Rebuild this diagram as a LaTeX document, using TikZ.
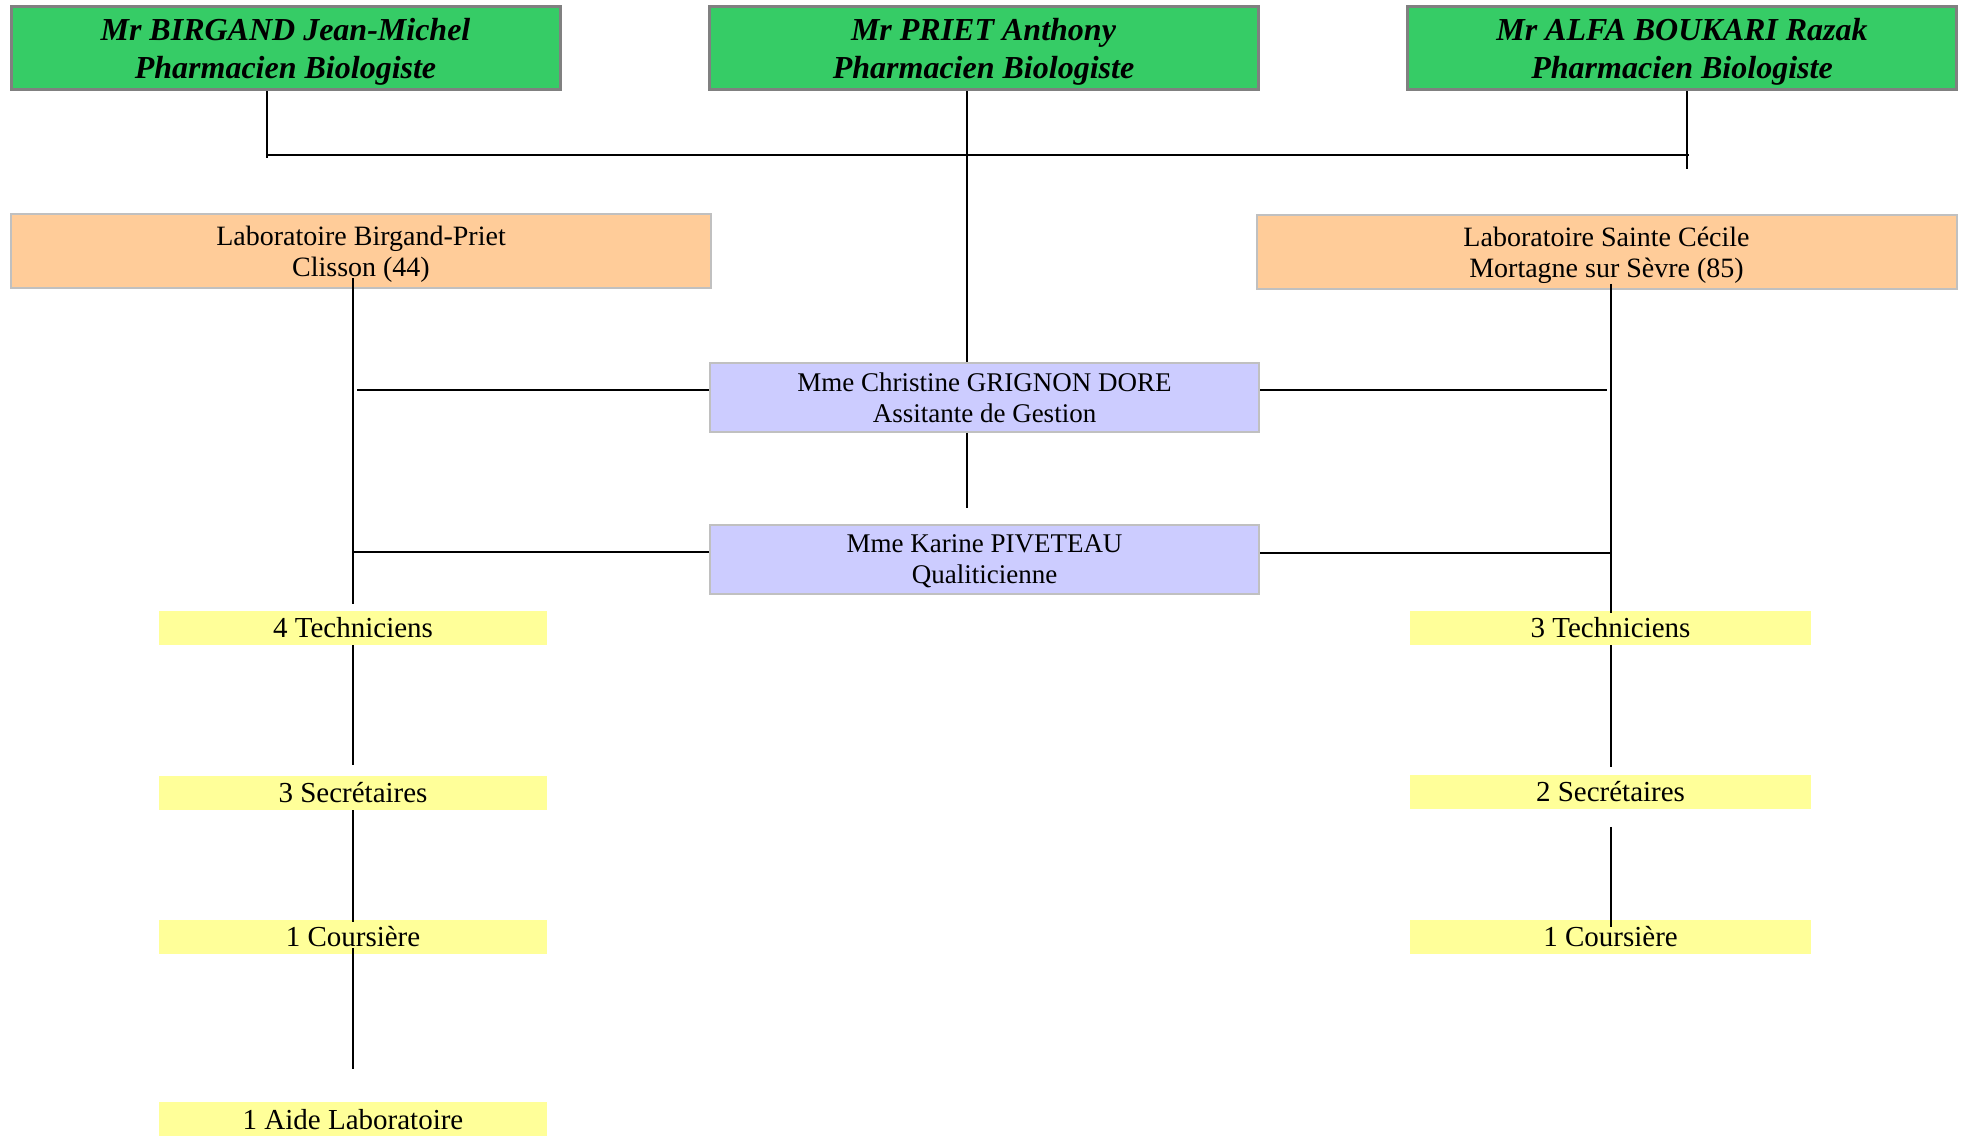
\documentclass[tikz,border=0pt]{standalone}
\usepackage{fontspec}
\setmainfont{Liberation Serif}
\usetikzlibrary{positioning}

\definecolor{chiefgreen}{RGB}{54,204,102}
\definecolor{chiefgray}{RGB}{128,128,128}
\definecolor{laborange}{RGB}{255,204,153}
\definecolor{staffblue}{RGB}{204,204,255}
\definecolor{teamyellow}{RGB}{255,255,153}
\definecolor{boxgray}{RGB}{192,192,192}

\begin{document}
\begin{tikzpicture}[x=0.5pt, y=-0.5pt,
    chief/.style={draw=chiefgray, line width=1.5pt, fill=chiefgreen, minimum width=274.5pt, minimum height=41.5pt, inner sep=0pt, text depth=0pt, align=center, font=\fontsize{16}{18.75}\selectfont\bfseries\itshape},
    lab/.style={draw=boxgray, line width=1pt, fill=laborange, minimum width=350pt, minimum height=37pt, inner sep=0pt, text depth=0pt, align=center, font=\fontsize{14}{15.6}\selectfont},
    staff/.style={draw=boxgray, line width=1pt, fill=staffblue, minimum width=274.5pt, minimum height=34.5pt, inner sep=0pt, text depth=0pt, align=center, font=\fontsize{13.5}{15.6}\selectfont},
    team/.style={fill=teamyellow, minimum height=17pt, inner sep=0pt, font=\fontsize{14.5}{16}\selectfont},
    link/.style={line width=1pt}]
    \useasboundingbox (0,0) rectangle (1962,1138);

    % Pharmaciens biologistes
    \node[chief] (birgand) at (285.5,48.5) {Mr BIRGAND Jean-Michel\\Pharmacien Biologiste};
    \node[chief] (priet) at (983.5,48.5) {Mr PRIET Anthony\\Pharmacien Biologiste};
    \node[chief] (alfa) at (1682,48.5) {Mr ALFA BOUKARI Razak\\Pharmacien Biologiste};

    % Laboratoires
    \node[lab] (clisson) at (361,251.5) {Laboratoire Birgand-Priet\\Clisson (44)};
    \node[lab] (mortagne) at (1606.5,252) {Laboratoire Sainte Cécile\\Mortagne sur Sèvre (85)};

    % Personnel commun
    \node[staff] (gestion) at (984.5,397.5) {Mme Christine GRIGNON DORE\\Assitante de Gestion};
    \node[staff, text depth=-1pt] (qualite) at (984.5,559) {Mme Karine PIVETEAU\\Qualiticienne};

    % Equipe Clisson
    \node[team, minimum width=194pt] (techL) at (353,628) {4 Techniciens};
    \node[team, minimum width=194pt] (secL) at (353,793) {3 Secrétaires};
    \node[team, minimum width=194pt] (courL) at (353,937) {1 Coursière};
    \node[team, minimum width=194pt, text depth=-2pt] (aideL) at (353,1119) {1 Aide Laboratoire};

    % Equipe Mortagne
    \node[team, minimum width=200.5pt] (techR) at (1610.5,628) {3 Techniciens};
    \node[team, minimum width=200.5pt] (secR) at (1610.5,791.5) {2 Secrétaires};
    \node[team, minimum width=200.5pt] (courR) at (1610.5,937) {1 Coursière};

    % Liaisons du haut
    \coordinate (busL) at (267,155);
    \coordinate (busR) at (1689,155);
    \coordinate (spine) at (967,0);
    \coordinate (dropR) at (1686.5,0);
    \draw[link] (busL |- birgand.south) -- ++(0,67);
    \draw[link] (busL) -- (busR);
    \draw[link] (dropR |- alfa.south) -- ++(0,78);
    \draw[link] (spine |- priet.south) -- (spine |- gestion.north);
    \draw[link] (spine |- gestion.south) -- ([yshift=8pt]spine |- qualite.north);

    % Branches vers le personnel commun
    \draw[link] ([yshift=3.5pt]gestion.west) -- ++(-352,0);
    \draw[link] ([yshift=3.5pt]qualite.west) -- ([yshift=3.5pt]qualite.west -| techL.north);
    \draw[link] ([yshift=3.5pt]gestion.east) -- ([yshift=3.5pt,xshift=-2pt]gestion.east -| techR.north);
    \draw[link] ([yshift=3pt]qualite.east) -- ([yshift=3pt]qualite.east -| techR.north);

    % Colonne Clisson
    \draw[link] ([yshift=5.5pt]clisson.south -| techL.north) -- ([yshift=3.5pt]techL.north);
    \draw[link] (techL.south) -- ([yshift=5.5pt]secL.north);
    \draw[link] (secL.south) -- ([yshift=-1.25pt]courL.north);
    \draw[link] ([yshift=3pt]courL.south) -- ([yshift=16.5pt]aideL.north);

    % Colonne Mortagne
    \draw[link] ([yshift=3pt]mortagne.south -| techR.north) -- ([yshift=-1pt]techR.north);
    \draw[link] (techR.south) -- ([yshift=3.5pt]secR.north);
    \draw[link] ([yshift=-9pt]secR.south) -- ([yshift=-3.5pt]courR.north);
\end{tikzpicture}
\end{document}
